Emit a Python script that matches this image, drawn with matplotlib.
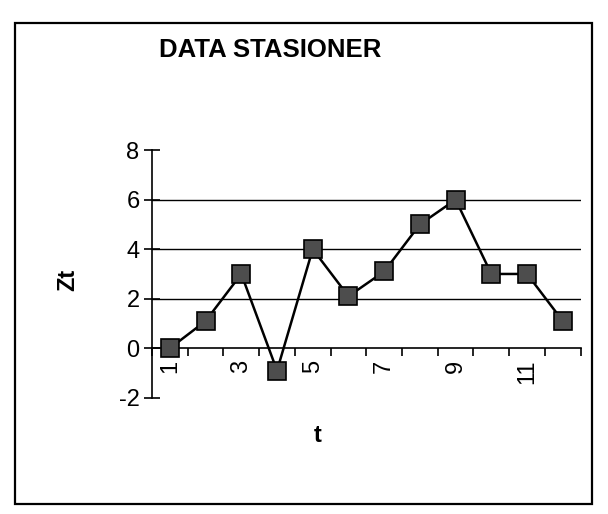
import matplotlib
matplotlib.use("Agg")
import matplotlib.pyplot as plt
from matplotlib.patches import Rectangle
from matplotlib.ticker import FixedLocator

t = list(range(1, 13))
zt = [0.0, 1.1, 3.0, -0.9, 4.0, 2.1, 3.1, 5.0, 6.0, 3.0, 3.0, 1.1]
x_tick_labels = ["1", "3", "5", "7", "9", "11"]
x_tick_pos = [1, 3, 5, 7, 9, 11]
y_ticks = [-2, 0, 2, 4, 6, 8]
grid_levels = [2, 4, 6]

plt.rcParams['font.family'] = ['Liberation Sans', 'DejaVu Sans']
plt.rcParams['axes.unicode_minus'] = False

fig = plt.figure(figsize=(6.08, 5.14), dpi=100)
fig.patches.append(Rectangle((0.025, 0.02), 0.948, 0.935, transform=fig.transFigure,
                             fill=False, edgecolor='black', linewidth=1.6))

ax = fig.add_axes([0.25, 0.226, 0.705, 0.482])
for g in grid_levels:
    ax.axhline(g, color='black', linewidth=1.0, zorder=1)

ax.plot(t, zt, color='black', linewidth=1.8, marker='s', markersize=12.5,
        markerfacecolor='#4d4d4d', markeredgecolor='black', markeredgewidth=1.2, zorder=3)

ax.set_xlim(0.5, 12.5)
ax.set_ylim(-2, 8)
ax.spines['top'].set_visible(False)
ax.spines['right'].set_visible(False)
ax.spines['bottom'].set_position(('data', 0))
ax.spines['left'].set_linewidth(1.2)
ax.spines['bottom'].set_linewidth(1.2)

ax.set_yticks(y_ticks)
ax.tick_params(axis='y', direction='inout', length=12, width=1.2, labelsize=17, pad=3)

ax.xaxis.set_major_locator(FixedLocator([i + 0.5 for i in range(0, 13)]))
ax.xaxis.set_minor_locator(FixedLocator(x_tick_pos))
ax.tick_params(axis='x', which='major', direction='out', length=6, width=1.2, labelbottom=False)
ax.tick_params(axis='x', which='minor', length=0, labelsize=17, pad=8)
ax.set_xticklabels(x_tick_labels, minor=True, rotation=90)

ax.patch.set_alpha(0)

fig.text(0.445, 0.903, "DATA STASIONER", fontsize=18.5, fontweight='bold', ha='center', va='center')
fig.text(0.112, 0.455, "Zt", fontsize=17, fontweight='bold', rotation=90, ha='center', va='center')
fig.text(0.523, 0.153, "t", fontsize=17, fontweight='bold', ha='center', va='center')

fig.savefig("out.png", dpi=100)
